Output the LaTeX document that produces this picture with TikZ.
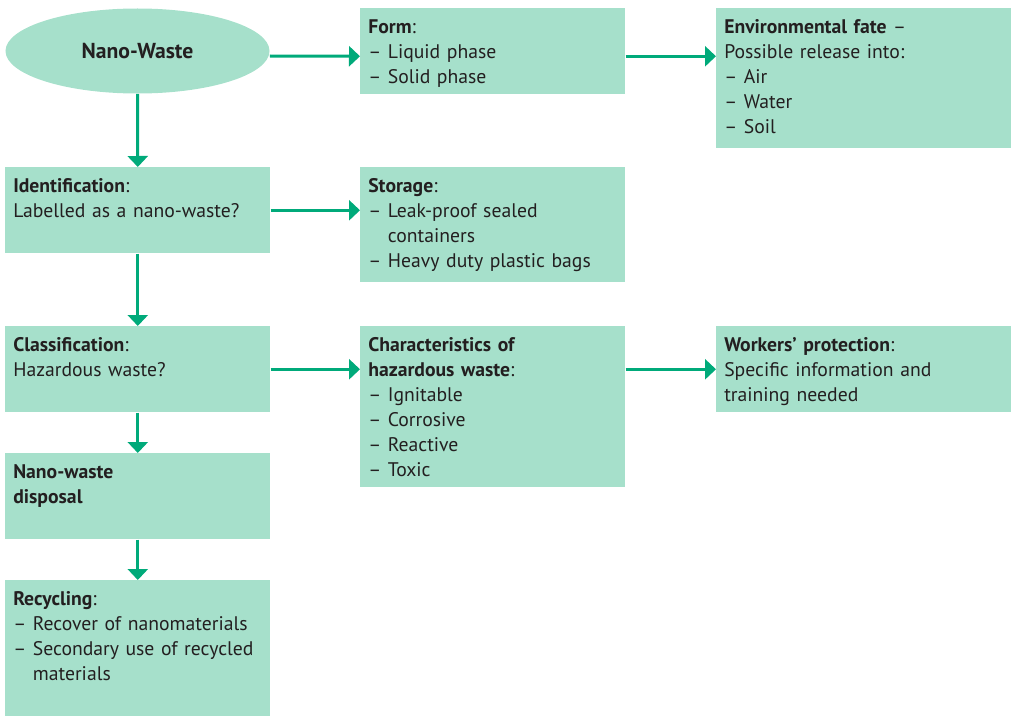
\documentclass[tikz,border=0pt]{standalone}
\usepackage{fontspec}
\setmainfont{PT Sans}
\usepackage{tikz}
\usetikzlibrary{arrows.meta,shapes.geometric}
\definecolor{boxfill}{RGB}{166,224,203}
\definecolor{flowgreen}{RGB}{0,170,122}
\definecolor{inkgrey}{RGB}{35,31,32}
\newcommand{\cont}{\hphantom{– }}

\begin{document}
\begin{tikzpicture}[>=latex,
    every node/.style={font=\fontsize{14}{17.8}\selectfont, text=inkgrey},
    box/.style={draw=none, fill=boxfill, anchor=north west, align=left,
      text width=6.225cm, inner xsep=0.2cm, inner ysep=0pt,
      text height=0.625cm, text depth=#1},
    box/.default=1.525cm,
    widebox/.style={box=#1, text width=6.975cm},
    widebox/.default=1.525cm,
    flow/.style={draw=flowgreen, line width=0.075cm,
      -{Triangle[length=0.275cm, width=0.5cm]}}]
      \useasboundingbox (0,0) rectangle (25.275,-17.9);

      \node[ellipse, fill=boxfill, minimum width=6.6cm, minimum height=2.125cm, inner sep=0pt,
        font=\fontsize{15.4}{18}\selectfont]
        (nano) at (3.4375,-1.275) {\textbf{Nano-Waste}};
      \node[box] (form) at (9.0,-0.2) {\textbf{Form}:\\– Liquid phase\\– Solid phase};
      \node[widebox=2.875cm] (env) at (17.9,-0.2)
        {\textbf{Environmental fate} –\\Possible release into:\\– Air\\– Water\\– Soil};

      \node[box] (ident) at (0.125,-4.175) {\textbf{Identification}:\\Labelled as a nano-waste?};
      \node[box=2.25cm] (storage) at (9.0,-4.175)
        {\textbf{Storage}:\\– Leak-proof sealed\\\cont containers\\– Heavy duty plastic bags};

      \node[box] (class) at (0.125,-8.15) {\textbf{Classification}:\\Hazardous waste?};
      \node[box=3.4cm] (char) at (9.0,-8.15)
        {\textbf{Characteristics of}\\\textbf{hazardous waste}:\\– Ignitable\\– Corrosive\\– Reactive\\– Toxic};
      \node[widebox] (workers) at (17.9,-8.15)
        {\textbf{Workers’ protection}:\\Specific information and\\training needed};

      \node[box] (disposal) at (0.125,-11.325) {\textbf{Nano-waste}\\\textbf{disposal}};
      \node[box=2.775cm] (recycling) at (0.125,-14.5)
        {\textbf{Recycling}:\\– Recover of nanomaterials\\– Secondary use of recycled\\\cont materials};

      \draw[flow] ([yshift=-0.125cm]nano.east) -- ([yshift=-0.125cm]form.west);
      \draw[flow] ([yshift=-0.125cm]form.east) -- ([yshift=-0.125cm]form.east -| env.west);
      \draw[flow] (ident.east) -- (ident.east -| storage.west);
      \draw[flow] (class.east) -- (class.east -| char.west);
      \draw[flow] (char.east |- workers.west) -- (workers.west);

      \draw[flow] (nano.south) -- (ident.north);
      \draw[flow] (ident.south) -- (class.north);
      \draw[flow] (class.south) -- (disposal.north);
      \draw[flow] (disposal.south) -- (recycling.north);
    \end{tikzpicture}
\end{document}
